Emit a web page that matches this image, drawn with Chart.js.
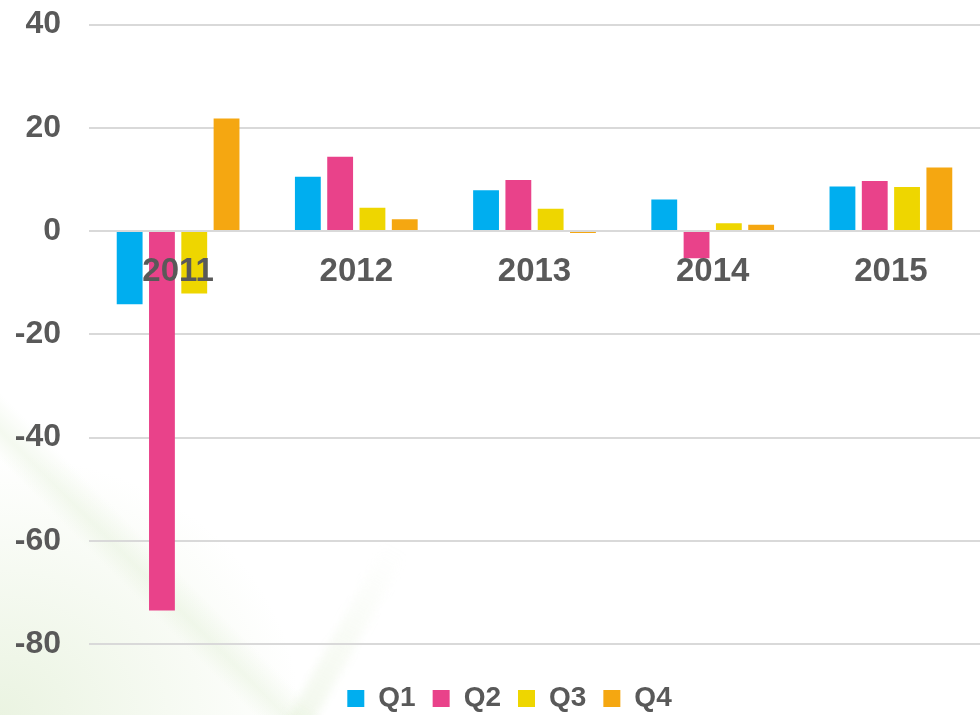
<!DOCTYPE html>
<html>
<head>
<meta charset="utf-8">
<script src="https://cdn.jsdelivr.net/npm/chart.js@4/dist/chart.umd.min.js"></script>
<style>
  html, body { margin: 0; padding: 0; }
  body {
    width: 980px; height: 715px; overflow: hidden; position: relative;
    background:
      linear-gradient(45deg, rgba(255,255,255,0) 15%, rgba(205,228,185,0.22) 16.8%, rgba(255,255,255,0) 19%),
      radial-gradient(ellipse 300px 260px at 0% 100%, rgba(214,232,196,0.5), rgba(255,255,255,0) 100%),
      #ffffff;
  }
  #streak {
    position: absolute; left: 272px; top: 520px; width: 24px; height: 230px;
    transform: rotate(29deg); transform-origin: 50% 100%;
    background: linear-gradient(to bottom, rgba(220,236,205,0) 0%, rgba(214,232,196,0.35) 100%);
    filter: blur(4px);
  }
  #wrap { position: absolute; left: 0; top: 0; width: 980px; height: 715px; }
</style>
</head>
<body>
<div id="streak"></div>
<div id="wrap"><canvas id="chart"></canvas></div>
<script>
const years = ['2011', '2012', '2013', '2014', '2015'];
const seriesNames = ['Q1', 'Q2', 'Q3', 'Q4'];
const q1 = [-14.2, 10.5, 7.9, 6.1, 8.6];
const q2 = [-73.5, 14.4, 9.9, -5.3, 9.7];
const q3 = [-12.1, 4.5, 4.3, 1.5, 8.5];
const q4 = [21.8, 2.3, -0.4, 1.2, 12.3];
const colors = ['#00AEEF', '#E9428A', '#EED600', '#F5A711'];

const textGray = '#595959';
const fontFamily = 'Liberation Sans, Arial, sans-serif';
const values = [q1, q2, q3, q4];

// move the legend box (it clips to its own area) so it sits centred under the plot, near the bottom
const legendShift = {
  id: 'legendShift',
  afterLayout(chart) {
    const lg = chart.legend;
    if (!lg) return;
    const h = lg.bottom - lg.top;
    lg.left += 19.5;
    lg.right += 19.5;
    lg.top = 667.5;
    lg.bottom = lg.top + h;
  }
};

new Chart(document.getElementById('chart'), {
  type: 'bar',
  data: {
    labels: years,
    datasets: seriesNames.map((name, i) => ({
      label: name,
      data: values[i],
      backgroundColor: colors[i],
      borderWidth: 0,
      categoryPercentage: 0.725,
      barPercentage: 0.8
    }))
  },
  options: {
    responsive: true,
    maintainAspectRatio: false,
    animation: false,
    layout: { autoPadding: false, padding: { top: 24.5, right: 0, bottom: 16, left: 0 } },
    plugins: {
      tooltip: { enabled: false },
      legend: {
        position: 'bottom',
        labels: {
          color: textGray,
          font: { family: fontFamily, size: 28, weight: 'bold' },
          boxWidth: 17,
          boxHeight: 17,
          padding: 17
        }
      }
    },
    scales: {
      x: {
        position: { y: 0 },
        grid: { display: false, drawTicks: false },
        border: { display: false },
        ticks: {
          z: 1,
          color: textGray,
          padding: 21,
          font: { family: fontFamily, size: 33, weight: 'bold' }
        },
        afterFit(scale) { scale.height = 0; }
      },
      y: {
        min: -80,
        max: 40,
        ticks: {
          stepSize: 20,
          color: textGray,
          padding: 28,
          font: { family: fontFamily, size: 32, weight: 'bold' }
        },
        grid: { color: '#d9d9d9', lineWidth: 2, drawTicks: false },
        border: { display: false },
        afterFit(scale) {
          scale.width = 89;
          scale.paddingTop = 0;
          scale.paddingBottom = 0;
        }
      }
    }
  },
  plugins: [legendShift]
});
</script>
</body>
</html>
